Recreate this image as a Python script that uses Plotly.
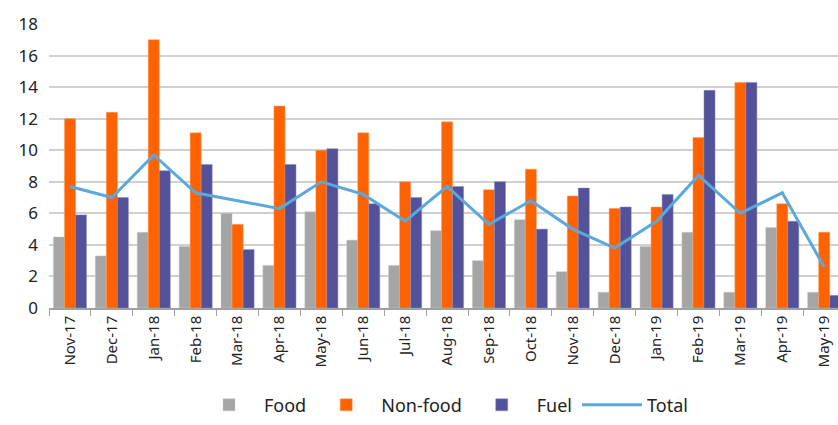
import plotly.graph_objects as go

months = ["Nov-17", "Dec-17", "Jan-18", "Feb-18", "Mar-18", "Apr-18", "May-18", "Jun-18",
          "Jul-18", "Aug-18", "Sep-18", "Oct-18", "Nov-18", "Dec-18", "Jan-19", "Feb-19",
          "Mar-19", "Apr-19", "May-19"]
food = [4.5, 3.3, 4.8, 3.9, 6.0, 2.7, 6.1, 4.3, 2.7, 4.9, 3.0, 5.6, 2.3, 1.0, 3.9, 4.8, 1.0, 5.1, 1.0]
non_food = [12.0, 12.4, 17.0, 11.1, 5.3, 12.8, 10.0, 11.1, 8.0, 11.8, 7.5, 8.8, 7.1, 6.3, 6.4, 10.8, 14.3, 6.6, 4.8]
fuel = [5.9, 7.0, 8.7, 9.1, 3.7, 9.1, 10.1, 6.6, 7.0, 7.7, 8.0, 5.0, 7.6, 6.4, 7.2, 13.8, 14.3, 5.5, 0.8]
total = [7.7, 7.0, 9.7, 7.3, 6.8, 6.3, 8.0, 7.2, 5.5, 7.7, 5.3, 6.8, 5.0, 3.8, 5.5, 8.4, 6.0, 7.3, 2.6]
y_ticks = [0, 2, 4, 6, 8, 10, 12, 14, 16, 18]

FONT = "Noto Sans"
fig = go.Figure()
fig.add_bar(x=months, y=food, name="Food", marker=dict(color="#A5A5A5", line=dict(color="#C8C8C8", width=0.5)))
fig.add_bar(x=months, y=non_food, name="Non-food", marker=dict(color="#FF6200", line=dict(color="#FF9A60", width=0.5)))
fig.add_bar(x=months, y=fuel, name="Fuel", marker=dict(color="#525199", line=dict(color="#8A89C0", width=0.5)))
fig.add_scatter(x=months, y=total, name="Total", mode="lines", line=dict(color="#5BA8DD", width=3))

fig.update_layout(
    width=838, height=425,
    margin=dict(l=49, r=0, t=24, b=117),
    plot_bgcolor="white", paper_bgcolor="white",
    barmode="group", bargap=0.21, bargroupgap=0,
    font=dict(family=FONT, size=15, color="#222222"),
    showlegend=True,
    legend=dict(orientation="h", x=0.5, xanchor="center", y=-0.342, yanchor="middle",
                font=dict(size=18), itemwidth=60, traceorder="normal"),
)
fig.update_xaxes(
    type="category", tickangle=-90, tickson="boundaries", ticks="outside", ticklen=6,
    tickcolor="#A0A0A0", showline=True, linecolor="#A0A0A0", linewidth=1.5,
    showgrid=False, range=[-0.5, 18.33], tickfont=dict(size=15), automargin=False,
)
fig.update_yaxes(
    range=[0, 18], tickvals=y_ticks, showgrid=True, gridcolor="#D0D0D0", gridwidth=1.5,
    zeroline=False, showline=False, ticks="", tickfont=dict(size=17), ticklabelstandoff=10,
    automargin=False,
)
fig.write_html("out.html")
